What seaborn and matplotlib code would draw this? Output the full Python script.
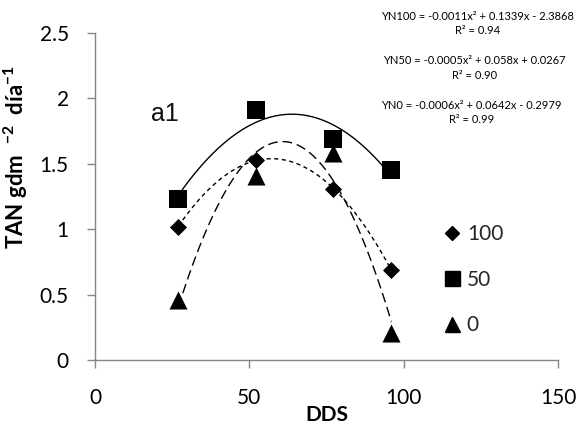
import numpy as np
import pandas as pd
import seaborn as sns
import matplotlib.pyplot as plt
from matplotlib.lines import Line2D

# Days after sowing and net assimilation rate for each nitrogen level
dds = [27, 52, 77, 96]
tan_100 = [1.02, 1.53, 1.31, 0.69]
tan_50 = [1.23, 1.91, 1.69, 1.45]
tan_0 = [0.46, 1.41, 1.58, 0.21]
levels = ["100", "50", "0"]

x_ticks = [0, 50, 100, 150]
y_ticks = [0, 0.5, 1, 1.5, 2, 2.5]
y_tick_labels = ["0", "0.5", "1", "1.5", "2", "2.5"]

equations = [
    "YN100 = -0.0011x² + 0.1339x - 2.3868\nR² = 0.94",
    "YN50 = -0.0005x² + 0.058x + 0.0267\nR² = 0.90",
    "YN0 = -0.0006x² + 0.0642x - 0.2979\nR² = 0.99",
]

sns.set_theme(style="white")
plt.rcParams["font.family"] = ["Lato", "DejaVu Sans"]
plt.rcParams["mathtext.fontset"] = "custom"
plt.rcParams["mathtext.rm"] = "Lato"
plt.rcParams["mathtext.bf"] = "Lato:bold"
plt.rcParams["mathtext.default"] = "bf"

df = pd.DataFrame({
    "DDS": dds * 3,
    "TAN": tan_100 + tan_50 + tan_0,
    "N": ["100"] * 4 + ["50"] * 4 + ["0"] * 4,
})

styles = {
    "100": dict(marker="D", ms=8.7, leg_ms=7.6, ls=(0, (3, 2.5))),
    "50": dict(marker="s", ms=13, leg_ms=10.8, ls="-"),
    "0": dict(marker="^", ms=13, leg_ms=10.8, ls=(0, (7, 3.5))),
}

fig = plt.figure(figsize=(5.84, 4.26), dpi=100)
ax = fig.add_axes([0.1627, 0.155, 0.7928, 0.7675])

for lvl in levels:
    sub = df[df["N"] == lvl]
    st = styles[lvl]
    # second-order polynomial trend line over the measured range
    sns.regplot(data=sub, x="DDS", y="TAN", order=2, ci=None, scatter=False,
                truncate=True, color="black",
                line_kws=dict(lw=1.0, ls=st["ls"]), ax=ax)
    sns.scatterplot(data=sub, x="DDS", y="TAN", marker=st["marker"],
                    s=st["ms"] ** 2, color="black", edgecolor="black",
                    linewidth=0, ax=ax, zorder=3)

ax.set_xlim(0, 150)
ax.set_ylim(0, 2.5)
ax.set_xticks(x_ticks)
ax.set_xticklabels([str(t) for t in x_ticks])
ax.set_yticks(y_ticks)
ax.set_yticklabels(y_tick_labels)

for side in ("top", "right"):
    ax.spines[side].set_visible(False)
for side in ("left", "bottom"):
    ax.spines[side].set_color("#868686")
    ax.spines[side].set_linewidth(1.0)

ax.tick_params(axis="both", which="major", direction="out", length=6,
               width=1.0, color="#868686", labelsize=15, labelcolor="black",
               left=True, bottom=True, pad=13)
ax.tick_params(axis="x", pad=14)

ax.set_xlabel("DDS", fontsize=15, fontweight="bold", color="black",
              labelpad=-2)
ax.set_ylabel(r"TAN gdm  $^{-2}$  día$^{-1}$", fontsize=16, fontweight="bold",
              color="black")
ax.yaxis.set_label_coords(-0.14, 0.62)

ax.text(0.151, 0.752, "a1", transform=ax.transAxes, fontsize=18,
        family="Liberation Sans", color="#111111", va="center", ha="center")

eq_pos = [(0.818, 0.945), (0.813, 0.84), (0.807, 0.736)]
for txt, (ex, ey) in zip(equations, eq_pos):
    fig.text(ex, ey, txt, ha="center", va="center", fontsize=8,
             linespacing=1.4, color="black")

handles = [
    Line2D([], [], marker=styles[l]["marker"], color="black", ls="none",
           ms=styles[l]["leg_ms"]) for l in levels
]
ax.legend(handles, levels, loc="upper left", bbox_to_anchor=(0.731, 0.441),
          frameon=False, fontsize=15, labelspacing=1.22, handletextpad=0.2,
          handlelength=1.0, borderaxespad=0)

fig.savefig("out.png", dpi=100)
